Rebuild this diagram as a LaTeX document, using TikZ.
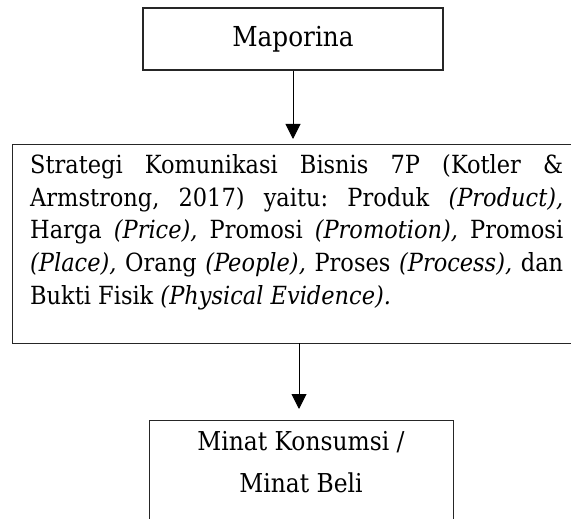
\documentclass[tikz,border=0pt]{standalone}
\usepackage{fontspec}
\setmainfont{DejaVu Serif Condensed}
\usetikzlibrary{arrows.meta}
\tikzset{
  boxstyle/.style={draw=black!85, line width=1.2pt, rectangle, inner sep=0pt},
  arr/.style={draw=black, line width=1pt, -{Triangle[width=15pt,length=15pt]}},
  txt/.style={inner sep=0pt, font=\fontsize{26}{33}\selectfont}
}
\begin{document}
\frenchspacing
\begin{tikzpicture}[x=1pt,y=-1pt]
\useasboundingbox (0,0) rectangle (571,519);
\clip (0,0) rectangle (571,519);
\node[boxstyle, minimum width=300pt, minimum height=62pt, txt, font=\fontsize{27.5}{33}\selectfont] (top) at (293,39) {Maporina};
\node[boxstyle, minimum width=580pt, minimum height=199pt, anchor=north west] (mid) at (12,144) {};
\node[txt, font=\fontsize{25}{33}\selectfont, anchor=base west] (midtext) at (30,173) {\parbox[t]{533pt}{\frenchspacing%
\makebox[533pt][s]{Strategi Komunikasi Bisnis 7P (Kotler \&}\\
\makebox[533pt][s]{Armstrong, 2017) yaitu: Produk \textit{(Product),}}\\
\makebox[533pt][s]{Harga \textit{(Price),} Promosi \textit{(Promotion),} Promosi}\\
\makebox[533pt][s]{\textit{(Place),} Orang \textit{(People),} Proses \textit{(Process),} dan}\\
Bukti Fisik \textit{(Physical Evidence).}}};
\node[boxstyle, minimum width=304pt, minimum height=140pt, anchor=north west] (bot) at (149,420) {};
\node[txt, anchor=base] (bot1) at (301,450) {Minat Konsumsi /};
\node[txt, anchor=base] (bot2) at (301,492) {Minat Beli};
\draw[arr, shorten >=5pt] (top.south) -- (top.south |- mid.north);
\coordinate (a2s) at (299,343);
\draw[arr, shorten >=11pt] (a2s) -- (a2s |- bot.north);
\end{tikzpicture}
\end{document}
